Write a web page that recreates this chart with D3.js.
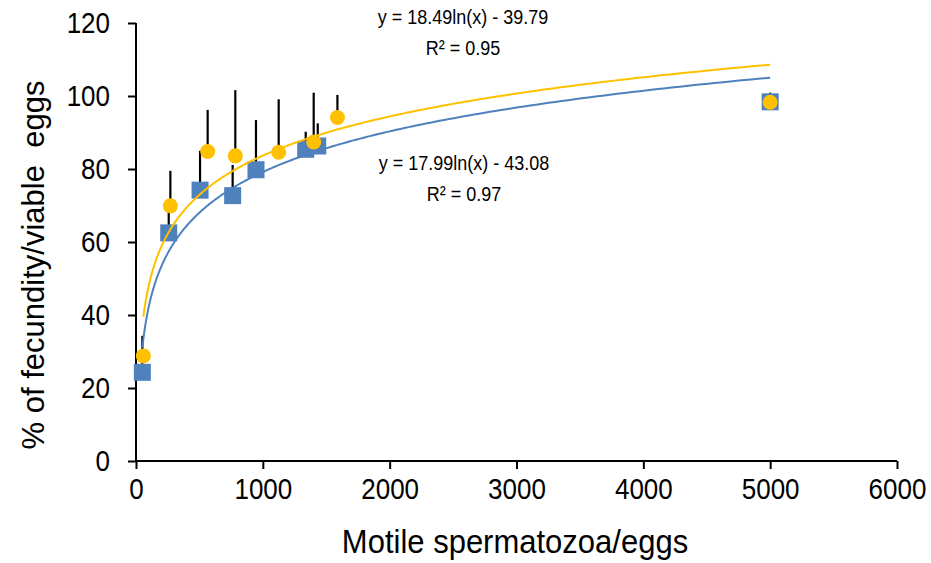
<!DOCTYPE html>
<html>
<head>
<meta charset="utf-8">
<script src="https://cdn.jsdelivr.net/npm/d3@7"></script>
<style>
    body { margin: 0; background: #fff; }
    text { font-family: "Liberation Sans", Arial, sans-serif; fill: #000; }
</style>
</head>
<body>
<div id="chart"></div>
<script>
// blue squares
var blueX = [50, 258, 505, 762, 946, 1338, 1433, 5000];
var blueY = [24.3, 62.5, 74.2, 72.7, 79.8, 85.4, 86.3, 98.4];
var blueErr = [10, 8, 10.8, 8.4, 13.6, 4.8, 6.2, 2.5];

// yellow circles
var yellowX = [58, 271, 565, 783, 1125, 1401, 1588, 5000];
var yellowY = [28.8, 69.9, 84.8, 83.6, 84.6, 87.4, 94.1, 98.3];
var yellowErr = [0, 9.6, 11.4, 18, 14.5, 13.5, 6.2, 0];

var xTicks = [0, 1000, 2000, 3000, 4000, 5000, 6000];
var yTicks = [0, 20, 40, 60, 80, 100, 120];

var yellowLabel = ["y = 18.49ln(x) - 39.79", "R\u00b2 = 0.95"];
var blueLabel = ["y = 17.99ln(x) - 43.08", "R\u00b2 = 0.97"];

var width = 931, height = 563;
var blueCol = "#4f81bd", yellowCol = "#ffc000";
var stretch = 1.14;   // text in the picture is a bit taller than wide

var svg = d3.select("#chart").append("svg")
    .attr("width", width)
    .attr("height", height);

var x = d3.scaleLinear().domain([0, 6000]).range([136, 897]);
var y = d3.scaleLinear().domain([0, 120]).range([461, 23]);

// log fit, like the spreadsheet trendline
function logFit(xs, ys) {
    var lx = xs.map(Math.log);
    var mx = d3.mean(lx), my = d3.mean(ys);
    var sxy = d3.sum(lx, (v, i) => (v - mx) * (ys[i] - my));
    var sxx = d3.sum(lx, v => (v - mx) * (v - mx));
    var a = sxy / sxx;
    return { a: a, b: my - a * mx };
}

function trendPoints(xs, ys) {
    var f = logFit(xs, ys);
    var lo = d3.min(xs), hi = d3.max(xs);
    return d3.range(0, 301).map(i => {
        var v = Math.exp(Math.log(lo) + (Math.log(hi) - Math.log(lo)) * i / 300);
        return [v, f.a * Math.log(v) + f.b];
    });
}

// axes
var xAxis = svg.append("g")
    .attr("transform", "translate(0," + y(0) + ")")
    .call(d3.axisBottom(x).tickValues(xTicks).tickSize(8).tickPadding(9).tickFormat(d3.format("d")));
var yAxis = svg.append("g")
    .attr("transform", "translate(" + x(0) + ",0)")
    .call(d3.axisLeft(y).tickValues(yTicks).tickSize(8).tickPadding(18));

[xAxis, yAxis].forEach(g => {
    g.select(".domain").remove();
    g.selectAll(".tick line").attr("stroke", "#000").attr("stroke-width", 2);
    g.selectAll(".tick text").style("font-size", "26px").attr("fill", "#000");
});
xAxis.selectAll(".tick text")
    .attr("transform", "translate(0,17) scale(1," + stretch + ") translate(0,-17)");
yAxis.selectAll(".tick text")
    .attr("transform", "scale(1," + stretch + ")");

svg.append("line").attr("x1", x(0)).attr("x2", x(6000)).attr("y1", y(0)).attr("y2", y(0))
    .attr("stroke", "#000").attr("stroke-width", 2);
svg.append("line").attr("x1", x(0)).attr("x2", x(0)).attr("y1", y(0)).attr("y2", y(120))
    .attr("stroke", "#000").attr("stroke-width", 2);

// error bars (plus only)
function errBars(xs, ys, es) {
    svg.append("g").selectAll("line")
        .data(xs.map((v, i) => ({ x: v, y: ys[i], e: es[i] })).filter(d => d.e > 0))
        .enter().append("line")
        .attr("x1", d => x(d.x)).attr("x2", d => x(d.x))
        .attr("y1", d => y(d.y)).attr("y2", d => y(d.y + d.e))
        .attr("stroke", "#000").attr("stroke-width", 2.2);
}
errBars(blueX, blueY, blueErr);
errBars(yellowX, yellowY, yellowErr);

// markers
svg.append("g").selectAll("rect")
    .data(blueX.map((v, i) => [v, blueY[i]]))
    .enter().append("rect")
    .attr("x", d => x(d[0]) - 8.5).attr("y", d => y(d[1]) - 8.5)
    .attr("width", 17).attr("height", 17)
    .attr("fill", blueCol);

svg.append("g").selectAll("circle")
    .data(yellowX.map((v, i) => [v, yellowY[i]]))
    .enter().append("circle")
    .attr("cx", d => x(d[0])).attr("cy", d => y(d[1]))
    .attr("r", 7.5)
    .attr("fill", yellowCol);

// trendlines
var line = d3.line().x(d => x(d[0])).y(d => y(d[1]));
svg.append("path").datum(trendPoints(blueX, blueY))
    .attr("d", line).attr("fill", "none").attr("stroke", blueCol).attr("stroke-width", 2);
svg.append("path").datum(trendPoints(yellowX, yellowY))
    .attr("d", line).attr("fill", "none").attr("stroke", yellowCol).attr("stroke-width", 2);

// equation labels
function eqLabel(lines, cx, cy) {
    svg.append("g")
        .attr("transform", "translate(" + cx + "," + cy + ") scale(1," + stretch + ")")
        .selectAll("text").data(lines).enter().append("text")
        .attr("x", 0).attr("y", (d, i) => i * 27)
        .attr("dy", "0.35em")
        .attr("text-anchor", "middle")
        .style("font-size", "18px")
        .text(d => d);
}
eqLabel(yellowLabel, 463, 17);
eqLabel(blueLabel, 464, 163);

// axis titles
svg.append("text")
    .attr("transform", "translate(515,541) scale(1,1.06)")
    .attr("dy", "0.35em")
    .attr("text-anchor", "middle")
    .style("font-size", "31px")
    .text("Motile spermatozoa/eggs");

svg.append("text")
    .attr("transform", "translate(33,265) rotate(-90)")
    .attr("dy", "0.35em")
    .attr("text-anchor", "middle")
    .style("font-size", "31px")
    .style("white-space", "pre")
    .text("% of fecundity/viable  eggs");
</script>
</body>
</html>
